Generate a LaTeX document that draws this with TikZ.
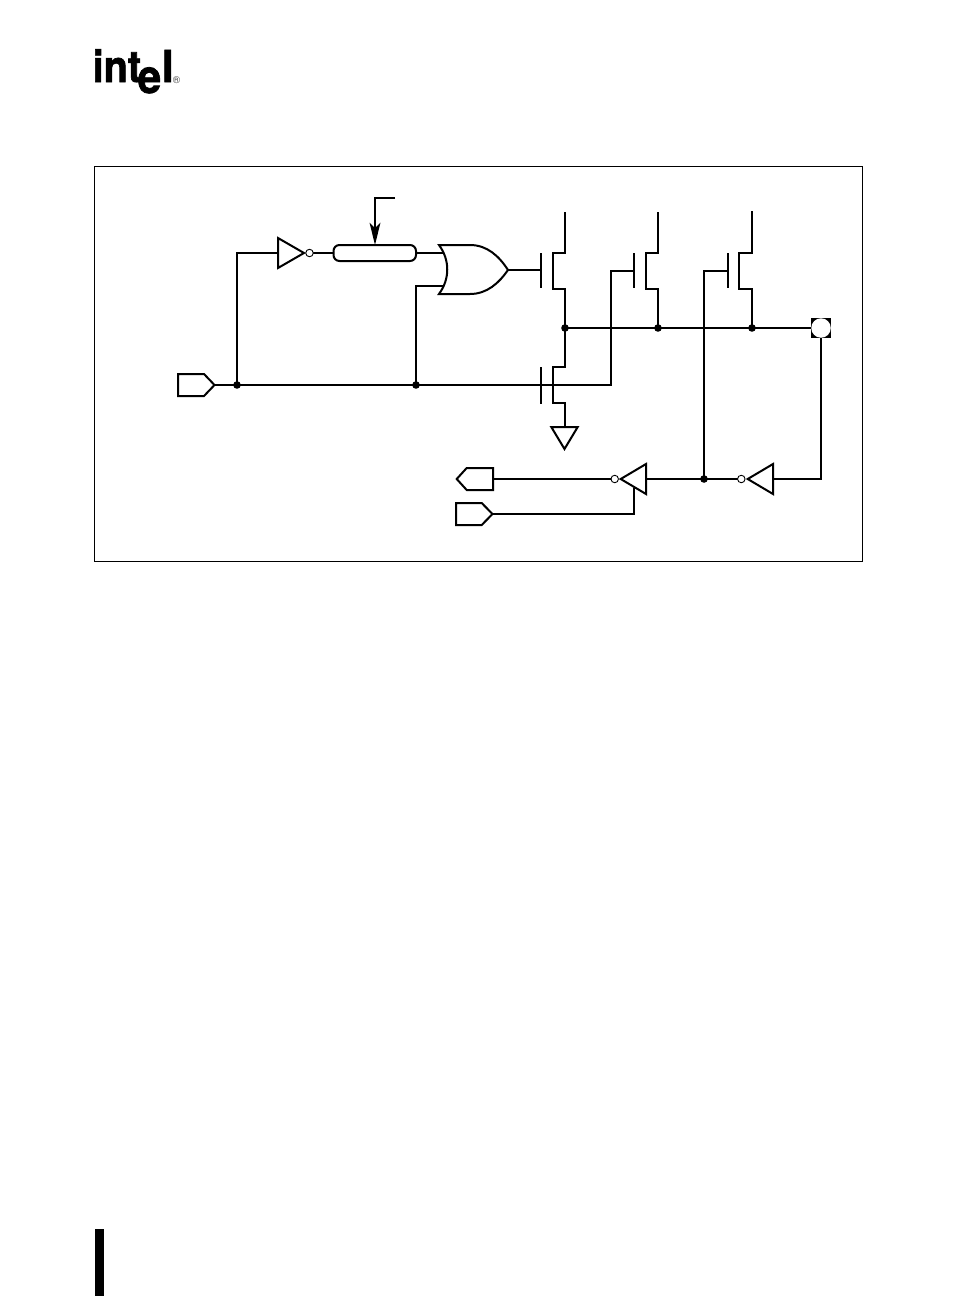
\documentclass[tikz,border=0pt]{standalone}
\usepackage{fontspec}
\setmainfont{TeX Gyre Heros}
\newfontfamily\logofont[FakeBold=1.6]{TeX Gyre Heros Bold}
\usetikzlibrary{arrows.meta}
\tikzset{
  x=1pt,y=-1pt,
  wire/.style={line width=2pt,line join=miter,line cap=butt},
  symb/.style={line width=2pt,line join=miter,fill=white},
  bub/.style={circle,draw,line width=0.9pt,fill=white,inner sep=0pt,minimum size=7.5pt},
  junc/.style={circle,fill=black,inner sep=0pt,minimum size=7.6pt},
  gatebar/.style={line width=2pt},
  logo/.style={inner sep=0pt,anchor=base west,font=\fontsize{44}{44}\logofont}
}
\begin{document}
\begin{tikzpicture}
\useasboundingbox (0,0) rectangle (954,1296);
\fill[white] (0,0) rectangle (954,1296);
% logo
\node[logo] (logoint) at (92.5,82) {\makebox[45pt][l]{\scalebox{0.9}[1]{int}}};
\node[logo,font=\fontsize{47}{47}\logofont] (logoe) at (137.5,93) {\makebox[23pt][l]{\scalebox{0.9}[1]{e}}};
\node[logo] (logol) at (161.5,82) {\makebox[10pt][l]{l}};
\node[inner sep=0pt,font=\fontsize{10}{10}\selectfont,text=black!75] (logor) at (176.5,80.5) {®};
% frame and side bar
\draw[line width=1pt] (94.5,166.5) rectangle (862.5,561.5);
\fill[black] (95,1229) rectangle (104,1296);
% coordinates
\coordinate (inA) at (214.5,385);
\coordinate (j1) at (237,385);
\coordinate (j2) at (416,385);
\coordinate (up1) at (237,253);
\coordinate (invTin) at (278,253);
\coordinate (pillL) at (333.5,253);
\coordinate (pillR) at (416,253);
\coordinate (ctl) at (395,198);
\coordinate (ctlc) at (375,198);
\coordinate (orA) at (444,253);
\coordinate (orBc) at (416,286);
\coordinate (orB) at (443,286);
\coordinate (orOut) at (508,270);
\coordinate (g1) at (541,270);
\coordinate (g2c) at (611,271);
\coordinate (g2cb) at (611,385);
\coordinate (g2) at (634,271);
\coordinate (g3c) at (704,271);
\coordinate (g3) at (728,271);
\coordinate (n1) at (565,328);
\coordinate (n2) at (658,328);
\coordinate (n3) at (752,328);
\coordinate (pad) at (821,328);
\coordinate (padc) at (821,479);
\coordinate (j3) at (704,479);
\coordinate (gnd) at (565,427);
\coordinate (outT) at (493,479);
\coordinate (inB) at (492.5,514);
\coordinate (enc) at (634,514);
\coordinate (en) at (634,488);
% wires
\draw[wire] (inA) -- (g2cb) -- (g2c) -- (g2);
\draw[wire] (j1) -- (up1) -- (invTin);
\draw[wire] (j2) -- (orBc) -- (orB);
\draw[wire] (pillR) -- (orA);
\draw[wire] (312,253) -- (pillL);
\draw[wire] (orOut) -- (g1);
\draw[wire] (g3) -- (g3c) -- (j3);
\draw[wire] (n1) -- (pad);
\draw[wire] (pad) -- (padc) -- (773,479);
\draw[wire] (646,479) -- (738,479);
\draw[wire] (outT) -- (612,479);
\draw[wire] (inB) -- (enc) -- (en);
% control arrow
\draw[wire] (ctl) -- (ctlc) -- (375,232);
\fill (369.5,222.5) -- (375,228) -- (380.5,222.5) -- (375,245) -- cycle;
% pill
\draw[symb,rounded corners=6pt] (333.5,245) rectangle (416,261);
% pentagons
\draw[symb] (178,374) -- (204,374) -- (inA) -- (204,396) -- (178,396) -- cycle;
\draw[symb] (493,468) -- (466.7,468) -- (456.7,479) -- (466.7,490) -- (493,490) -- cycle;
\draw[symb] (456,503) -- (481.7,503) -- (inB) -- (481.7,525) -- (456,525) -- cycle;
% inverters
\draw[symb] (278,238) -- (304,253) -- (278,268) -- cycle;
\node[bub] (bub1) at (309.5,253) {};
\draw[symb] (773,464) -- (747.7,479) -- (773,494) -- cycle;
\node[bub] (bub2) at (741.3,479) {};
\draw[symb] (646,464) -- (620.7,479) -- (646,494) -- cycle;
\node[bub] (bub3) at (614.7,479) {};
% OR gate
\draw[symb] (439,245) -- (470,245) .. controls (487,245) and (499,256) .. (orOut)
  .. controls (499,283) and (487,294) .. (470,294) -- (439,294)
  .. controls (450,279) and (450,260) .. (439,245) -- cycle;
% transistors
\draw[gatebar] (541,253) -- (541,288);
\draw[wire] (565,212) -- (565,253) -- (553,253) -- (553,289) -- (565,289) -- (n1);
\draw[gatebar] (634,253) -- (634,288);
\draw[wire] (658,212) -- (658,253) -- (646,253) -- (646,289) -- (658,289) -- (n2);
\draw[gatebar] (728,253) -- (728,288);
\draw[wire] (752,211) -- (752,253) -- (739,253) -- (739,289) -- (752,289) -- (n3);
\draw[gatebar] (541,367) -- (541,404);
\draw[wire] (n1) -- (565,367) -- (553,367) -- (553,403) -- (565,403) -- (gnd);
% ground
\draw[symb] (551.3,427) -- (577.7,427) -- (564.5,449) -- cycle;
% pad
\fill[black] (811,318) rectangle (831,338);
\node[circle,fill=white,inner sep=0pt,minimum size=19.5pt] (padc0) at (pad) {};
% junctions
\foreach \p/\n in {j1/d1,j2/d2,n1/d3,n2/d4,n3/d5,j3/d6}{\node[junc] (\n) at (\p) {};}
\end{tikzpicture}
\end{document}
